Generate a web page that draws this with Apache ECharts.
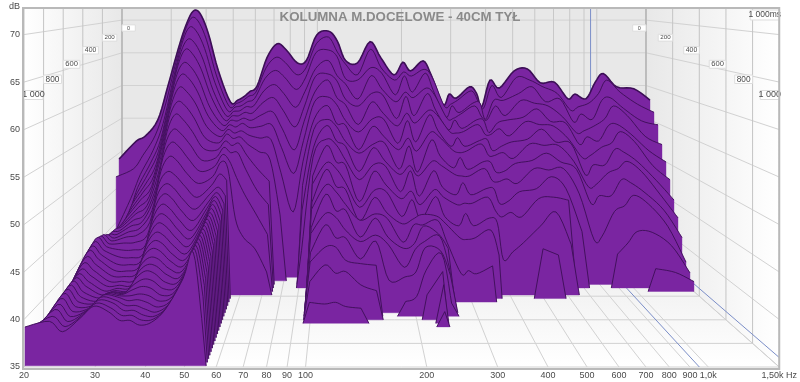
<!DOCTYPE html>
<html>
<head>
<meta charset="utf-8">
<style>html,body{margin:0;background:#fff}#chart{width:800px;height:382px}</style>
<script src="https://cdn.jsdelivr.net/npm/echarts@6/dist/echarts.min.js"></script>
</head>
<body>
<div id="chart"></div>
<script>
const titleText = 'KOLUMNA M.DOCELOWE - 40CM TYŁ';
const freqTicks = [20,30,40,50,60,70,80,90,100,200,300,400,500,600,700,800,900,1000,1500];
const timeTicks = [0,200,400,600,800,1000];
const dbTicks = [35,40,45,50,55,60,65,70];
const cursorFreq = 950;
const cursorDb = 36;

// one waterfall slice every 30 ms, back to front
const sliceTimes = [30,60,90,120,150,180,210,240,270,300,330,360,390,420,450,480,510,540,570,600,630,660,690,720,750,780,810,840,870,900,930,960,990];

const frequencies = [20,23,24.8,27.4,29.7,32.3,34.4,36.5,38.6,41.3,44.8,49.5,52.5,55.1,58,61.4,66.6,72.3,77.8,85.3,91.8,99.7,110,118,126,139,154,168,187,201,214,237,253,279,293,310,346,366,382,408,440,497,553,615,690,769,815,891,961,1026,1143,1315,1500];

// dB per slice for each frequency above, a list stops when that frequency falls under the floor
const decay = [
  [49.1,46.8,38.4,37.8,37.8,37.8,37.8,37.8,37.8,37.8,37.8,37.8,37.8,37.8,38,38,37.8,37.6,37.4,37.2,37,36.8,36.6,36.4,36.4,36.4,36.6,36.8,37,37.2,37.6,38.4,39.1],
  [51.8,48,44,42,41.6,41.4,41.4,41.5,41.7,42,42.1,42.2,42.6,43,43.2,43.4,43.2,43,42.8,42.4,42,41.6,41.4,41.3,41.3,41.2,41.1,41,40.8,40.5,40.3,39.9,39.7],
  [52.6,50,47.5,46,45,44.4,43.8,43.4,43,42.8,42.6,42.5,42.4,42.4,42.4,42.4,42.3,42.1,41.9,41.6,41.3,41,40.7,40.5,40.2,40,39.8,39.6,39.4,39.2,39,38.8,38.6],
  [55,53,51,49.5,48.3,47.2,46.4,45.7,45,44.5,44,43.6,43.2,42.9,42.5,42,41.5,41,40.6,40.3,40,39.8,39.6,39.5,39.5,39.5,39.6,39.7,39.8,39.9,40,40,40],
  [60,57.5,55,53,51.5,50,48.7,47.5,46.5,45.6,44.8,44.2,43.7,43.2,42.6,42,41.4,40.9,40.5,40.2,40,39.9,39.9,40,40.2,40.5,40.8,41,41.2,41.3,41.3,41.3,41.3],
  [65.6,63.8,61.8,60,58.3,56.5,55,53.5,51.8,50,48.5,47.3,46,44.8,43.6,42.6,41.9,41.4,41,40.6,40.2,40,40,40,40.2,40.4,40.6,40.8,41,41,41,40.8,40.7],
  [69.2,68,66.6,65,63.6,62,60.4,58.8,57.2,55.6,54,52.6,51.1,49.7,48.4,47.2,46.2,45.4,44.6,44,43.4,43,42.5,42.1,41.8,41.4,41.1,40.8,40.6,40.4,40.2,40,39.8],
  [71.4,70.4,69.1,67.4,66.1,64.3,62.8,61.2,59.4,57.9,56.1,54.6,53,51.3,50,49,48,47.1,46.3,45.5,44.8,44.2,43.5,43,42.6,42,41.5,41,40.7,40.4,40.2,40,39.8],
  [71.1,70,68.6,67,65.5,63.8,62.3,60.6,58.9,57.2,55.5,54,52.4,50.8,49.5,48.5,47.5,46.7,45.9,45.1,44.5,43.9,43.3,42.8,42.3,41.8,41.3,40.8,40.4,40,39.7,39.5,39.3],
  [68.1,67.2,66,64.6,63.3,61.8,60.4,58.9,57.2,55.6,54,52.4,50.8,49.4,48,46.9,46,45.2,44.5,43.8,43.2,42.7,42.2,41.8,41.3,40.9,40.5,40.2,39.9,39.7,39.6,39.6,39.6],
  [62.5,61.8,61,60,59.2,58,57,55.8,54.5,53.3,52,50.8,49.5,48,46.8,45.7,44.8,44.1,43.5,43,42.6,42.2,41.9,41.6,41.4,41.2,41,40.9,40.8,40.8,40.8,40.9,41],
  [57.7,57.3,56.9,56.4,56,55.5,55,54.4,53.8,53.1,52.3,51.4,50.4,49.5,48.7,48,47.5,47,46.6,46.2,45.9,45.6,45.3,45.1,44.9,44.7,44.6,44.5,44.4,44.3,44.2,44.2,44.2],
  [58,57.7,57.4,57,56.6,56.2,55.8,55.4,55,54.3,53.7,53,52.3,51,49.6,49.2,49,48.8,48.6,48.4,48.2,48.1,48,47.9,47.8,47.7,47.6,47.5,47.4,47.3,47.2,47.1,47],
  [58.5,58.1,57.6,57.1,56.6,56.1,55.5,54.9,54.4,53.7,53,52.2,51.4,50.2,48.5,47.8,47.3,47,46.6,46.3,46,45.7,45.4,45.2,44.9,44.6,44.3,44,43.7,43.3,42.9,42,40],
  [59.3,58.8,58.2,57.7,57.1,56.5,56,55.2,54.6,54,53,50,45],
  [60.1,59.4,58.7,57.8,57,56.2,55.4,54.6,53.6,52.4,50.8,47.8,42.5],
  [64.4,63,61.6,60,58.5,57,55.6,54.2,52.6,50.5,48,45.2,41],
  [66.5,64.6,62.8,60.9,59.2,57.4,55.8,54,51.5,48.9,46.1,42.5,38],
  [65.6,63.8,61.8,59.6,57.4,55,52.6,49.5,44],
  [63.6,62,60,57.6,55,52,49,44],
  [64,63,61.7,59.9,58,56,53.6,51,48,45,40],
  [67.8,66.6,65.4,63.2,62.2,60.2,59,56.8,55.6,53.4,52.4,50.2,49.4,47.4,46.8,44.8,44.4,42.4,41.6,39.6,37.5],
  [68.4,67.6,65.8,64.4,62.6,61.9,59.7,58.7,57,56.4,54.8,54.2,52.2,51.6,49.9,49,46.9,45.8,43.4,41.6,37.3],
  [66.9,65.4,64.8,62.2,61.6,59.4,58.6,56.2,56,54.3,54,52,51.4,49.4,49,46.9,46.4,44.2,43.4,40.6,37.5],
  [64,63.6,61.6,61,59,58.4,56.4,56,54,53.6,52,51.6,49.6,49,47.4,47,44.8,44.2,41.8,40.8,37],
  [63.6,62,61.4,58.8,58,55.6,54.8,52.6,52.4,50.2,49.4,46.8,46.4,45,45.4,43.6,43.4,41.6,41.4,39.2,36.8],
  [66.8,65.8,63.2,62.2,59.8,58.8,56.6,55.8,53.6,53.4,51.4,50.8,48.6,48,46.2,46,44.2,43.8,41.2,38.5],
  [64.4,63,62.4,60.2,59.6,57.2,56.6,54.4,53.8,51.6,51.2,49,48.4,46,45.6,43.6,43,39],
  [61.8,61.2,59.2,58.4,56.2,55.4,53.2,52.6,50.2,49.8,47.8,47.2,45.2,44.6,42.6,42.2,40.2,39.4,36.8],
  [63.7,62.4,62,59.8,59.4,57.2,56.4,54.2,53.4,51,50.6,48.2,47.4,45.2,44.8,42.8,42.4,40,37.4],
  [62.4,61.8,59.6,59,56.6,55.8,53.4,52.4,49.8,49.6,47.2,46.4,44.8,45.8,44.8,45,43.4,43,40.6,38],
  [63.9,62.8,62.4,60.4,59.8,57.6,57.2,55,54.2,51.6,50.6,48.4,47.8,45.6,45.4,44,44.1,42.6,42.6,40.8,39.6,36.8],
  [61.8,61.6,59.8,59.4,57.4,57,55,54.4,52,51,48.4,47.4,45.2,44.6,42.6,42.2,40.2,39.6,36.6],
  [57.3,57.3,55.9,56,54.6,54.6,52.8,52.6,50.4,49.8,47.4,46.4,44,42.8,38.6],
  [58.9,57.6,57.6,56,56,54.4,54,52.2,51.8,49.6,49,46.6,45.6,42.6,39],
  [58.3,58.2,56.6,56.6,54.8,54.6,52.8,52.4,50.2,49.6,47.4,46.6,44,42.8,38.6],
  [60,59.6,58,57.8,56,55.6,53.6,53.4,51.2,50.6,48.2,47.4,45,43.8,39.6],
  [59,58,58,56.2,56,54.2,53.8,51.8,51.2,49,48.2,45.6,44.4,40.6],
  [57,57,55.6,55.8,54.2,54.2,52.2,51.8,49.8,48.8,46.2,44.8,39.6],
  [61,60.4,58.4,57.8,55.6,55,52.8,52.2,50,49.2,46.6,45.4,40.6],
  [59.8,58.6,58.4,56.4,56,54,53.4,51.4,51,48.6,47.8,44.8,41.8],
  [62.4,61.6,59.4,58.6,56.4,56,53.8,53.4,51.4,50.6,48.2,47.2,44,41.4],
  [62.7,61.2,60.4,58.2,57.6,55.6,55.2,53.2,52.4,50.4,49.8,47.4,45.8,40.6],
  [60.6,60.2,58.2,57.8,55.8,55.4,53.4,53.2,51.2,50.6,48.2,47,41.6],
  [60.7,59.2,58.6,56.2,55.6,53.6,53.2,51,50.2,47.2,42.5],
  [58.2,56.7,55.2,53.9,52.5,50.9,48.8,47.5,45.5,41],
  [58.9,57.2,56.4,54.2,53.6,51.2,50.2,47.8,46.6,41.5],
  [58.2,57.8,55.6,55,53,52.4,50.2,49.4,46.6,44.8,39.5],
  [60.7,59.2,58.4,56,55.2,53,52.4,50,48.8,45.6,41],
  [62,61.2,58.8,57.8,55.4,54.6,52,51,48.4,47,42.5],
  [60,59.4,57.2,56.4,54,53.2,50.6,49.6,47,45.8,42.4,38],
  [59.7,57.6,55.4,53.4,51.6,49.8,48,46.4,44.6,42.8,40.6,37.5],
  [58,56.4,54.8,52.2,50,47.8,45.3,43.2,40.9,38,37,36.3]
];

const PURPLE = '#7a25a1';
const INK = '#3c0f56';
const GRID_LINE = '#d2d2d2';
const CURSOR = '#7b8ec8';
const FLOOR_DB = 35;
const TOP_DB = 72.8;
const MAX_MS = 1000;
// back wall of the box, the front plane is the echarts grid itself
const BACK = { left: 122, right: 646, floor: 249, dbPx: 6.54 };

function lerp(a, b, t) { return a + (b - a) * t; }

function projector(api) {
  const f0 = api.coord([20, FLOOR_DB]);
  const f1 = api.coord([1500, 70]);
  const kx = (BACK.right - BACK.left) / (f1[0] - f0[0]);
  const ky = BACK.dbPx * 35 / (f0[1] - f1[1]);
  return function (freq, db, ms) {
    const p = api.coord([freq, db]);
    const d = ms / MAX_MS;
    return [
      lerp(BACK.left + (p[0] - f0[0]) * kx, p[0], d),
      lerp(BACK.floor + (p[1] - f0[1]) * ky, p[1], d)
    ];
  };
}

function curve(pts) {
  if (pts.length < 3) return pts.slice();
  const out = [];
  for (let k = 0; k < pts.length - 1; k++) {
    const p0 = pts[Math.max(k - 1, 0)], p1 = pts[k], p2 = pts[k + 1], p3 = pts[Math.min(k + 2, pts.length - 1)];
    for (let s = 0; s < 5; s++) {
      const t = s / 5, t2 = t * t, t3 = t2 * t;
      out.push([0, 1].map(a => 0.5 * (2 * p1[a] + (p2[a] - p0[a]) * t + (2 * p0[a] - 5 * p1[a] + 4 * p2[a] - p3[a]) * t2 + (3 * p1[a] - p0[a] - 3 * p2[a] + p3[a]) * t3)));
    }
  }
  out.push(pts[pts.length - 1]);
  return out;
}

function renderSlice(params, api) {
  const i = api.value(2);
  const ms = sliceTimes[i];
  const project = projector(api);
  const children = [];
  let j = 0;
  while (j < frequencies.length) {
    if (decay[j][i] === undefined) { j++; continue; }
    let end = j;
    while (end + 1 < frequencies.length && decay[end + 1][i] !== undefined) end++;
    const nodes = [];
    for (let k = j; k <= end; k++) nodes.push(project(frequencies[k], decay[k][i], ms));
    const top = curve(nodes);
    // the run of values tapers to the floor half way to the next frequency
    const leftFoot = project(j > 0 ? Math.sqrt(frequencies[j - 1] * frequencies[j]) : frequencies[j], FLOOR_DB, ms);
    const rightFoot = project(end < frequencies.length - 1 ? Math.sqrt(frequencies[end + 1] * frequencies[end]) : frequencies[end], FLOOR_DB, ms);
    children.push({
      type: 'polygon',
      shape: { points: [leftFoot].concat(top, [rightFoot]) },
      style: { fill: PURPLE, stroke: PURPLE, lineWidth: 0.4 }
    });
    const stroke = top.slice();
    if (j > 0) stroke.unshift(leftFoot);
    if (end < frequencies.length - 1) stroke.push(rightFoot);
    children.push({
      type: 'polyline',
      shape: { points: stroke },
      style: { fill: null, stroke: INK, lineWidth: i === 0 ? 1.6 : 0.9 }
    });
    j = end + 1;
  }
  return { type: 'group', children: children };
}

function line(a, b, color, width) {
  return { type: 'line', shape: { x1: a[0], y1: a[1], x2: b[0], y2: b[1] }, style: { stroke: color, lineWidth: width || 1 } };
}

function label(text, x, y, px, align) {
  return { type: 'text', style: { text: text, x: x, y: y, fill: '#4a4a4a', font: px + 'px "Liberation Sans"', align: align || 'center', verticalAlign: 'middle' } };
}

function renderBox(params, api) {
  const project = projector(api);
  const LinearGradient = echarts.graphic.LinearGradient;
  const fl = api.coord([20, FLOOR_DB]);
  const fr = api.coord([1500, FLOOR_DB]);
  const top = api.coord([20, TOP_DB])[1];
  const els = [];
  const shade = '#e8e8e8';
  // walls and floor
  els.push({ type: 'rect', shape: { x: BACK.left, y: top, width: BACK.right - BACK.left, height: BACK.floor - top }, style: { fill: shade } });
  els.push({ type: 'polygon', shape: { points: [[fl[0], top], [BACK.left, top], [BACK.left, BACK.floor], fl] }, style: { fill: new LinearGradient(fl[0], 0, BACK.left, 0, [{ offset: 0, color: '#ffffff' }, { offset: 1, color: shade }], true) } });
  els.push({ type: 'polygon', shape: { points: [[fr[0], top], [BACK.right, top], [BACK.right, BACK.floor], fr] }, style: { fill: new LinearGradient(fr[0], 0, BACK.right, 0, [{ offset: 0, color: '#ffffff' }, { offset: 1, color: shade }], true) } });
  els.push({ type: 'polygon', shape: { points: [[BACK.left, BACK.floor], [BACK.right, BACK.floor], fr, fl] }, style: { fill: new LinearGradient(0, BACK.floor, 0, fl[1], [{ offset: 0, color: '#ececec' }, { offset: 1, color: '#ffffff' }], true) } });
  // level lines
  dbTicks.forEach(function (db) {
    const backL = project(20, db, 0), backR = project(1500, db, 0);
    els.push(line(backL, backR, GRID_LINE));
    els.push(line(backL, project(20, db, MAX_MS), GRID_LINE));
    els.push(line(backR, project(1500, db, MAX_MS), GRID_LINE));
  });
  // frequency lines
  freqTicks.forEach(function (f) {
    const b = project(f, FLOOR_DB, 0);
    els.push(line([b[0], top], b, '#c8c8c8'));
    els.push(line(b, project(f, FLOOR_DB, MAX_MS), GRID_LINE));
  });
  // time lines
  timeTicks.forEach(function (ms) {
    const l = project(20, FLOOR_DB, ms), r = project(1500, FLOOR_DB, ms);
    els.push(line(l, r, GRID_LINE));
    els.push(line([l[0], top], l, '#c4c4c4'));
    els.push(line([r[0], top], r, '#c4c4c4'));
  });
  els.push(line([BACK.left, top], [BACK.left, BACK.floor], '#ababab'));
  els.push(line([BACK.right, top], [BACK.right, BACK.floor], '#ababab'));
  // cursor
  const cb = project(cursorFreq, FLOOR_DB, 0);
  els.push(line([cb[0], top], cb, CURSOR));
  els.push(line(cb, project(cursorFreq, FLOOR_DB, MAX_MS), CURSOR));
  els.push(line(project(1500, cursorDb, 0), project(1500, cursorDb, MAX_MS), CURSOR));
  // time labels in little boxes on both side walls
  timeTicks.forEach(function (ms) {
    const d = ms / MAX_MS;
    const scale = lerp(0.7, 1, d);
    const w = 19 * scale, h = 9 * scale;
    const y = 28 + 67 * Math.pow(d, 1.2);
    const xl = project(20, FLOOR_DB, ms)[0];
    const xr = project(1500, FLOOR_DB, ms)[0];
    const txt = ms === 1000 ? '1 000' : String(ms);
    [xl, xr - w].forEach(function (x) {
      els.push({ type: 'rect', shape: { x: x, y: y - h / 2, width: w, height: h }, style: { fill: '#ffffff', stroke: '#dddddd', lineWidth: 1 } });
      els.push(label(txt, x + w / 2, y, lerp(5.5, 9, d)));
    });
  });
  els.push({ type: 'rect', shape: { x: fr[0] - 29, y: top + 2, width: 29, height: 10 }, style: { fill: '#ffffff', stroke: '#dddddd', lineWidth: 1 } });
  els.push(label('1 000ms', fr[0] - 14.5, top + 7, 8.5));
  // frame
  els.push({ type: 'rect', shape: { x: fl[0] - 1, y: top, width: fr[0] - fl[0] + 1, height: fl[1] + 2 - top }, style: { fill: null, stroke: '#b9b9b9', lineWidth: 2 } });
  return { type: 'group', children: els };
}

const chart = echarts.init(document.getElementById('chart'));
chart.setOption({
  animation: false,
  backgroundColor: '#ffffff',
  title: {
    text: titleText,
    left: 'center',
    top: 6,
    textStyle: { color: '#8a8a8a', fontSize: 13.3, fontWeight: 'bold', fontFamily: 'Liberation Sans' }
  },
  grid: { left: 24, right: 11, top: 8, bottom: 15 },
  xAxis: {
    type: 'log',
    min: 20,
    max: 1500,
    axisLine: { show: false },
    axisTick: { show: false },
    splitLine: { show: false },
    axisLabel: {
      customValues: freqTicks,
      hideOverlap: false,
      margin: 4,
      fontSize: 9,
      color: '#4a4a4a',
      fontFamily: 'Liberation Sans',
      formatter: function (v) {
        const f = Math.round(v);
        if (f === 1000) return '1,0k';
        if (f === 1500) return '1,50k Hz';
        return String(f);
      }
    }
  },
  yAxis: {
    type: 'value',
    min: FLOOR_DB,
    max: TOP_DB,
    interval: 5,
    name: 'dB',
    nameLocation: 'end',
    nameGap: -3,
    nameTextStyle: { color: '#4a4a4a', fontSize: 9, fontFamily: 'Liberation Sans', align: 'right', padding: [0, 4, 0, 0] },
    axisLine: { show: false },
    axisTick: { show: false },
    splitLine: { show: false },
    axisLabel: { showMaxLabel: false, margin: 4, fontSize: 9, color: '#4a4a4a', fontFamily: 'Liberation Sans' }
  },
  series: [
    {
      type: 'custom',
      coordinateSystem: 'cartesian2d',
      clip: false,
      silent: true,
      z: 1,
      data: [[20, FLOOR_DB]],
      renderItem: renderBox
    },
    {
      type: 'custom',
      coordinateSystem: 'cartesian2d',
      clip: false,
      silent: true,
      z: 2,
      encode: { x: 0, y: 1 },
      data: sliceTimes.map(function (t, i) { return [20, FLOOR_DB, i]; }),
      renderItem: renderSlice
    }
  ]
});
</script>
</body>
</html>
